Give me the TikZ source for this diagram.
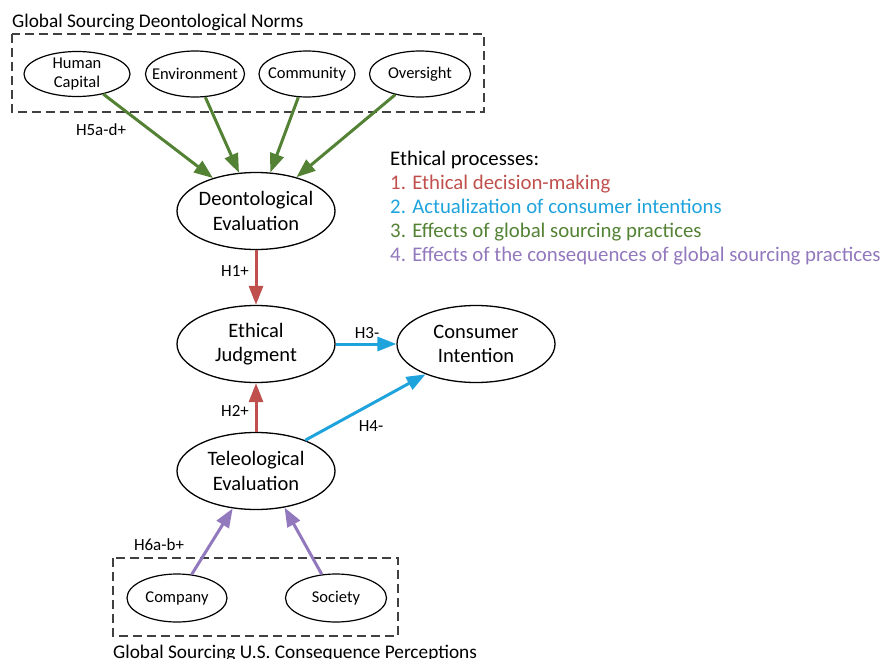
\documentclass[tikz,border=0pt]{standalone}
\usepackage{fontspec}
\setmainfont{Carlito}
\usetikzlibrary{shapes.geometric,arrows.meta}
\definecolor{cgreen}{HTML}{548235}
\definecolor{cred}{HTML}{C0504D}
\definecolor{cblue}{HTML}{1FA3DC}
\definecolor{cpurple}{HTML}{9278BC}
\definecolor{cbox}{HTML}{404040}
\tikzset{
  bigell/.style={ellipse,draw,line width=1.3pt,minimum width=158pt,minimum height=77pt,inner sep=-12pt,align=center,font=\fontsize{20.5}{24.5}\selectfont},
  smallell/.style={ellipse,draw,line width=1.2pt,minimum width=100pt,minimum height=46pt,inner sep=-14pt,align=center,font=\fontsize{16.5}{19}\selectfont},
  groupbox/.style={draw=cbox,dashed,dash pattern=on 9pt off 5pt,line width=1.3pt},
  hlabel/.style={font=\fontsize{17}{20}\selectfont,inner sep=0pt},
  titletext/.style={font=\fontsize{19.3}{22}\selectfont,inner sep=0pt,anchor=base west},
  legtext/.style={font=\fontsize{20.8}{24}\selectfont,inner sep=0pt,anchor=base west},
  conn/.style={line width=3pt,-{Triangle[length=19pt,width=14pt]}},
}
\begin{document}
\begin{tikzpicture}[x=1pt,y=-1pt]
\useasboundingbox (0,0) rectangle (885,658);
% group boxes
\draw[groupbox] (12,34) rectangle (484,112);
\draw[groupbox] (113,558) rectangle (398,636);
\node[titletext] (t1) at (12,28) {Global Sourcing Deontological Norms};
\node[titletext] (t2) at (113,658) {Global Sourcing U.S. Consequence Perceptions};
% small ellipses
\node[smallell,minimum width=106pt,minimum height=45pt] (hc) at (77,74) {Human\\Capital};
\node[smallell,minimum width=99pt] (en) at (195,74) {Environment};
\node[smallell,minimum width=96pt] (cm) at (307,74) {Community};
\node[smallell,minimum width=101pt] (ov) at (420,74) {Oversight};
\node[smallell,minimum height=48pt] (co) at (177,598) {Company};
\node[smallell,minimum width=101pt,minimum height=48pt] (so) at (336,598) {Society};
% big ellipses
\node[bigell] (de) at (256,211) {Deontological\\Evaluation};
\node[bigell] (ej) at (256,344) {Ethical\\Judgment};
\node[bigell] (ci) at (476,344) {Consumer\\Intention};
\node[bigell] (te) at (256,471) {Teleological\\Evaluation};
% connectors
\draw[conn,cgreen] (hc) -- (de);
\draw[conn,cgreen] (en) -- (de);
\draw[conn,cgreen] (cm) -- (de);
\draw[conn,cgreen] (ov) -- (de);
\draw[conn,cred] (de) -- (ej);
\draw[conn,cred] (te) -- (ej);
\draw[conn,cblue] (ej.east) -- (ci.west);
\draw[conn,cblue] (te.32) -- (ci.211);
\draw[conn,cpurple] (co) -- (te);
\draw[conn,cpurple] (so.121) -- (te.-52);
% labels
\node[hlabel] (l5) at (101,130) {H5a-d+};
\node[hlabel] (l1) at (235,271) {H1+};
\node[hlabel] (l2) at (235,411) {H2+};
\node[hlabel] (l3) at (367,333) {H3-};
\node[hlabel] (l4) at (371,426) {H4-};
\node[hlabel] (l6) at (159,545) {H6a-b+};
% legend
\node[legtext] (g0) at (390,165) {Ethical processes:};
\node[legtext,text=cred] (g1) at (390,189) {1. Ethical decision-making};
\node[legtext,text=cblue] (g2) at (390,213) {2. Actualization of consumer intentions};
\node[legtext,text=cgreen] (g3) at (390,237) {3. Effects of global sourcing practices};
\node[legtext,text=cpurple] (g4) at (390,261) {4. Effects of the consequences of global sourcing practices};
\end{tikzpicture}
\end{document}
